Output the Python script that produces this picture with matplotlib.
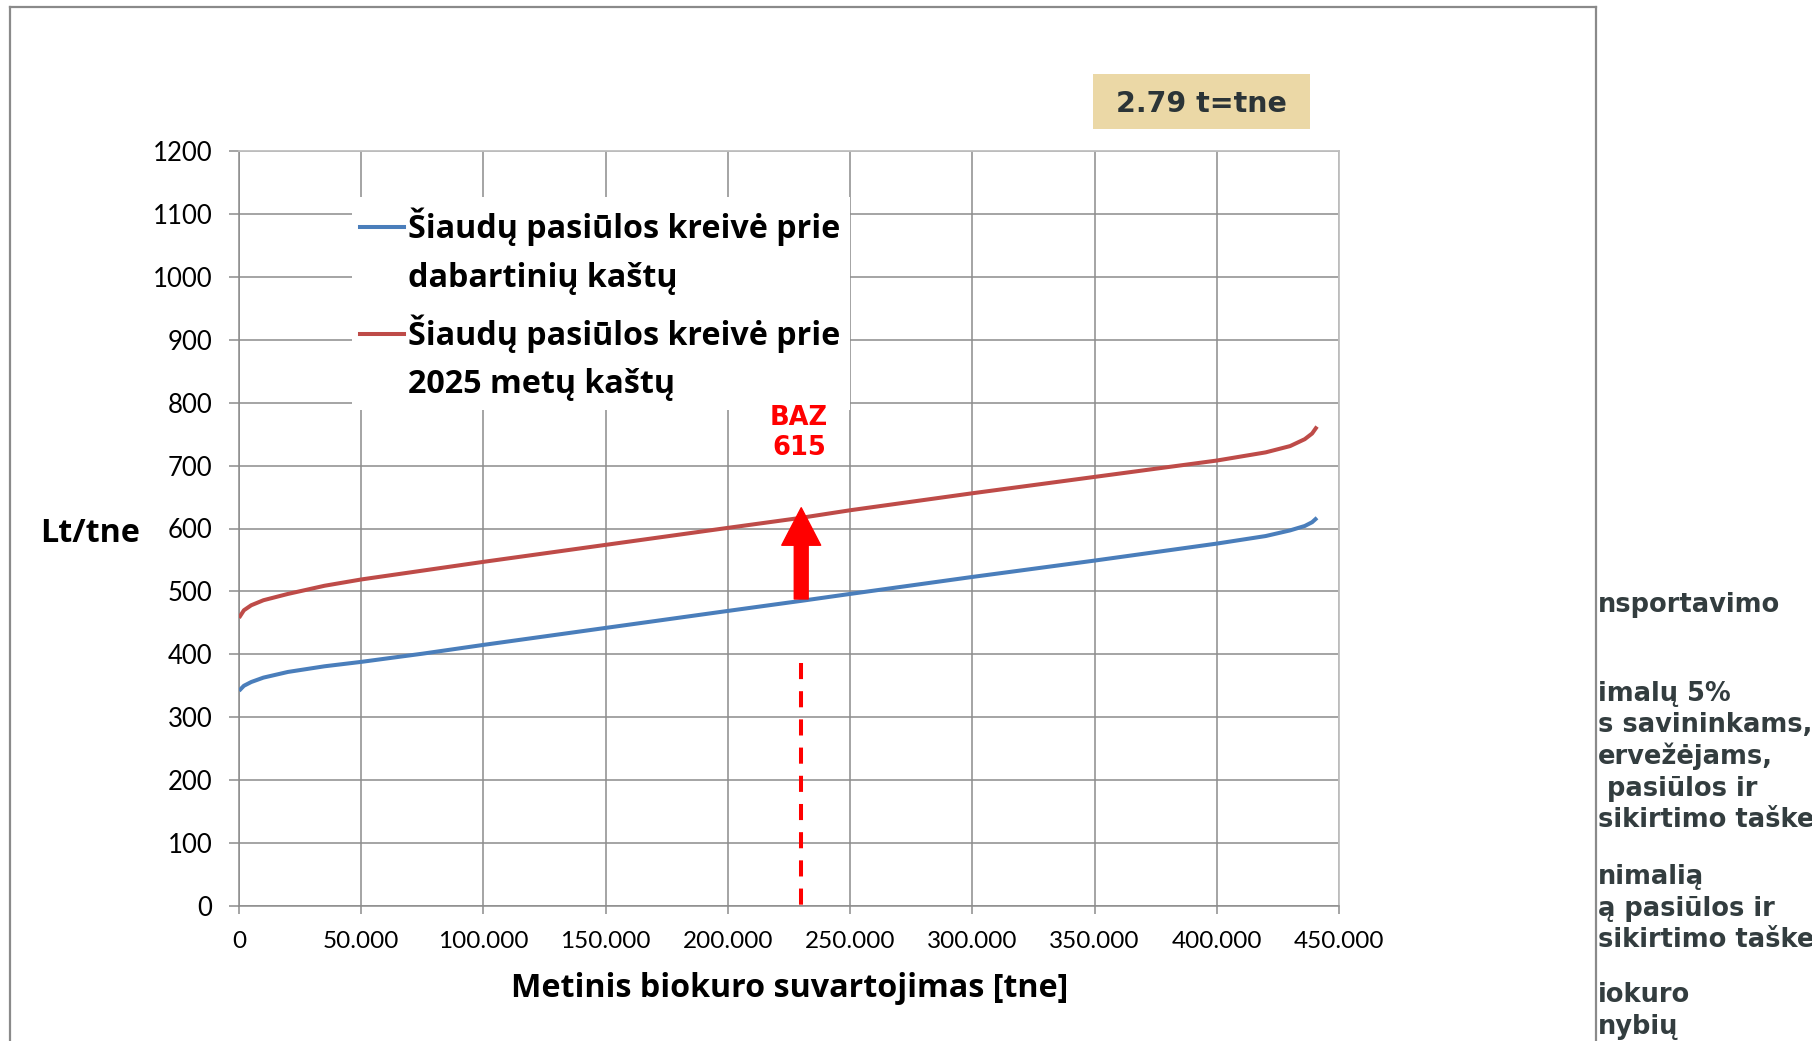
import matplotlib
matplotlib.use("Agg")
import matplotlib.pyplot as plt
from matplotlib.patches import Rectangle, FancyArrowPatch, ArrowStyle
from matplotlib.lines import Line2D

# ---------------- data ----------------
x_tne = [0, 2000, 5000, 10000, 20000, 35000, 50000, 75000, 100000, 150000,
         200000, 230000, 250000, 300000, 350000, 400000, 420000, 430000,
         436000, 439000, 441000]
cost_current = [342, 350, 356, 363, 372, 381, 388, 401, 415, 442,
                469, 485, 496, 523, 549, 576, 588, 597, 604, 610, 617]
cost_2025 = [458, 470, 478, 486, 496, 509, 519, 533, 547, 574,
             601, 617, 629, 656, 682, 708, 721, 731, 742, 751, 762]

series_labels = [["Šiaudų pasiūlos kreivė prie", "dabartinių kaštų"],
                 ["Šiaudų pasiūlos kreivė prie", "2025 metų kaštų"]]
x_ticks = [0, 50000, 100000, 150000, 200000, 250000, 300000, 350000, 400000, 450000]
x_ticklabels = ["0", "50.000", "100.000", "150.000", "200.000", "250.000",
                "300.000", "350.000", "400.000", "450.000"]
y_ticks = [0, 100, 200, 300, 400, 500, 600, 700, 800, 900, 1000, 1100, 1200]
y_ticklabels = [str(v) for v in y_ticks]

baz_x = 230000
baz_from = 488
baz_to = 633
baz_dash_top = 386
baz_lines = ["BAZ", "615"]
box_text = "2.79 t=tne"
x_label = "Metinis biokuro suvartojimas [tne]"
y_label = "Lt/tne"
side_lines = ["nsportavimo", "imalų 5%", "s savininkams,", "ervežėjams,",
              " pasiūlos ir", "sikirtimo taške", "nimalią", "ą pasiūlos ir",
              "sikirtimo taške", "iokuro", "nybių"]

# ---------------- layout ----------------
W, H = 1812, 1041
fig = plt.figure(figsize=(W / 100, H / 100), dpi=100)
fig.patch.set_facecolor("white")


def fx(x):
    return x / W


def fy(y):
    return 1 - y / H


ax = fig.add_axes([fx(239), fy(906), 1100 / W, 755 / H])
ax.set_xlim(0, 450000)
ax.set_ylim(0, 1200)

grid_c = "#8C8C8C"
ax.set_xticks(x_ticks)
ax.set_xticklabels(x_ticklabels, fontfamily="Lato", fontsize=17.5)
ax.set_yticks(y_ticks)
ax.set_yticklabels(y_ticklabels, fontfamily="Lato", fontsize=18.5)
ax.tick_params(axis="x", direction="out", length=6, width=1.1, color=grid_c, pad=12)
ax.tick_params(axis="y", direction="out", length=7.2, width=1.1, color=grid_c, pad=12)
ax.grid(True, color=grid_c, linewidth=1.1)
ax.set_axisbelow(True)
for s in ["left", "bottom"]:
    ax.spines[s].set_color(grid_c)
    ax.spines[s].set_linewidth(1.1)
for s in ["top", "right"]:
    ax.spines[s].set_color("#BFBFBF")
    ax.spines[s].set_linewidth(1.3)

blue = "#4A7EBB"
red = "#BE4B48"
ax.plot(x_tne, cost_current, color=blue, lw=2.9, solid_capstyle="butt", zorder=3)
ax.plot(x_tne, cost_2025, color=red, lw=2.9, solid_capstyle="butt", zorder=3)

# dashed vertical line (drawn top -> bottom)
ax.plot([baz_x, baz_x], [baz_dash_top, 0], color="#FF0000", lw=2.9,
        dashes=(4.0, 3.0), dash_capstyle="butt", zorder=4)

# arrow
arr = FancyArrowPatch((baz_x, baz_from), (baz_x, baz_to),
                      arrowstyle=ArrowStyle("Simple", head_length=27,
                                            head_width=28, tail_width=10),
                      mutation_scale=1, shrinkA=0, shrinkB=0,
                      color="#FF0000", zorder=5)
ax.add_patch(arr)

for txt, yy in zip(baz_lines, [425, 455]):
    fig.text(fx(799), fy(yy), txt, ha="center", va="baseline",
             fontfamily="DejaVu Sans", fontweight="bold", fontsize=18.5,
             color="#FF0000")

# axis labels
lab_font = dict(fontfamily="Open Sans", fontweight="bold", fontsize=23.2,
                color="black")
fig.text(fx(789.5), fy(997), x_label, ha="center", va="baseline", **lab_font)
fig.text(fx(90), fy(542), y_label, ha="center", va="baseline", **lab_font)

# legend (manual)
fig.add_artist(Rectangle((fx(352), fy(410)), 498 / W, 213 / H,
                         transform=fig.transFigure, facecolor="white",
                         edgecolor="none", zorder=1))
handle_y = [227, 334]
base_y = [[238, 287], [345, 393]]
for i, col in enumerate([blue, red]):
    fig.add_artist(Line2D([fx(360), fx(404)], [fy(handle_y[i])] * 2,
                          transform=fig.transFigure, color=col, lw=2.9,
                          zorder=2))
    for j, line in enumerate(series_labels[i]):
        fig.text(fx(408), fy(base_y[i][j]), line, ha="left", va="baseline",
                 zorder=3, **lab_font)

# beige text box
fig.add_artist(Rectangle((fx(1093), fy(129)), 217 / W, 55 / H,
                         transform=fig.transFigure, facecolor="#EBD8A6",
                         edgecolor="none", zorder=1))
fig.text(fx(1201), fy(112), box_text, ha="center", va="baseline",
         fontfamily="DejaVu Sans", fontweight="bold", fontsize=20.5,
         color="#2B3437", zorder=3)

# outer frame
frame_c = "#8A8A8A"
fig.add_artist(Line2D([fx(10), fx(1596)], [fy(7), fy(7)],
                      transform=fig.transFigure, color=frame_c, lw=1.6))
fig.add_artist(Line2D([fx(10), fx(10)], [fy(7), 0],
                      transform=fig.transFigure, color=frame_c, lw=1.6))
fig.add_artist(Line2D([fx(1596), fx(1596)], [fy(7), 0],
                      transform=fig.transFigure, color=frame_c, lw=1.6))

# cut-off text on the right side
side_y = [603, 692, 723, 755, 787, 818, 875, 907, 938, 993, 1025]
for txt, yy in zip(side_lines, side_y):
    fig.text(fx(1598), fy(yy + 9), txt, ha="left", va="baseline",
             fontfamily="DejaVu Sans", fontweight="bold", fontsize=18.5,
             color="#333D3F")

fig.savefig("out.png", dpi=100, facecolor="white")
